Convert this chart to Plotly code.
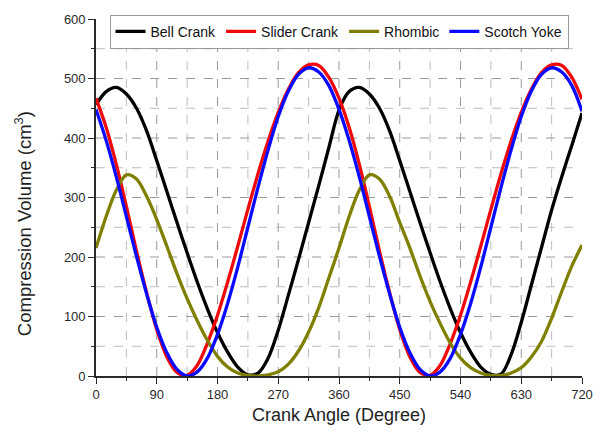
import plotly.graph_objects as go

# Crank angle in degrees
angles = list(range(0, 721, 15))

bell_crank = [456, 478, 485, 474, 450, 412, 362, 310, 258, 207, 158, 113, 73, 40, 15, 2,
              5, 30, 77, 136, 196, 258, 320, 384, 447,
              478, 485, 474, 450, 412, 362, 310, 258, 207, 158, 113, 73, 40, 15, 3,
              3, 36, 90, 153, 216, 279, 335, 388, 442]

slider_crank = [467, 418, 356, 285, 210, 140, 78, 32, 6, 1, 18, 55, 102, 158, 218, 280,
                340, 395, 443, 482, 510, 523, 522, 502, 467,
                418, 356, 285, 210, 140, 78, 32, 6, 1, 18, 55, 102, 158, 218, 280,
                340, 395, 443, 482, 510, 523, 522, 502, 465]

rhombic = [215, 268, 312, 338, 331, 302, 263, 218, 172, 130, 93, 60, 33, 15, 5, 1,
           0, 2, 7, 20, 42, 74, 115, 165, 215,
           268, 312, 338, 331, 302, 258, 215, 168, 125, 88, 55, 30, 14, 5, 1,
           1, 5, 14, 32, 58, 97, 142, 185, 220]

scotch_yoke = [448, 396, 335, 268, 201, 138, 82, 39, 11, 0, 7, 30, 70, 122, 183, 250,
               317, 380, 436, 479, 507, 518, 511, 488, 448,
               396, 335, 268, 201, 138, 82, 39, 11, 0, 7, 30, 70, 122, 183, 250,
               317, 380, 436, 479, 507, 518, 511, 488, 445]

x_ticks = [0, 90, 180, 270, 360, 450, 540, 630, 720]
y_ticks = [0, 100, 200, 300, 400, 500, 600]
x_grid = [45, 90, 135, 180, 225, 270, 315, 360, 405, 450, 495, 540, 585, 630, 675]
y_grid = [50, 100, 150, 200, 250, 300, 350, 400, 450, 500, 550]

series = [
    ("Bell Crank", bell_crank, "#000000"),
    ("Slider Crank", slider_crank, "#ee0a0a"),
    ("Rhombic", rhombic, "#808000"),
    ("Scotch Yoke", scotch_yoke, "#0a0aff"),
]

FONT = "Liberation Sans, Arial, sans-serif"

fig = go.Figure()
for name, ys, color in series:
    fig.add_trace(go.Scatter(
        x=angles, y=ys, mode="lines", name=name,
        line=dict(color=color, width=3.3, shape="spline", smoothing=0.9),
    ))

# dashed grid (no line at the right/top range ends, as in the reference)
for gx in x_grid:
    major = gx in x_ticks
    fig.add_shape(type="line", xref="x", yref="paper", x0=gx, x1=gx, y0=0, y1=1,
                  layer="below",
                  line=dict(color="#9a9a9a" if major else "#bdbdbd", width=1, dash="dash"))
for gy in y_grid:
    major = gy in y_ticks
    fig.add_shape(type="line", xref="paper", yref="y", x0=0, x1=1, y0=gy, y1=gy,
                  layer="below",
                  line=dict(color="#9a9a9a" if major else "#bdbdbd", width=1, dash="dash"))

axis_common = dict(
    showline=True, linecolor="#2a2a2a", linewidth=1.6,
    ticks="outside", ticklen=6, tickwidth=1.4, tickcolor="#2a2a2a",
    showgrid=False, zeroline=False,
    tickfont=dict(family=FONT, size=13, color="#2a2a2a"),
)

fig.update_layout(
    width=605, height=436,
    margin=dict(l=96, r=18, t=15, b=60),
    paper_bgcolor="white", plot_bgcolor="white",
    font=dict(family=FONT, color="#222222"),
    xaxis=dict(
        range=[0, 720], tickvals=x_ticks,
        minor=dict(dtick=45, ticks="outside", ticklen=3, tickcolor="#2a2a2a", showgrid=False),
        title=dict(text="Crank Angle (Degree)", font=dict(size=18), standoff=7),
        **axis_common,
    ),
    yaxis=dict(
        range=[0, 600], tickvals=y_ticks,
        minor=dict(dtick=50, ticks="outside", ticklen=3, tickcolor="#2a2a2a", showgrid=False),
        **axis_common,
    ),
    legend=dict(
        orientation="h", x=0.5, xanchor="center", y=1.012, yanchor="top",
        bgcolor="white", bordercolor="#999999", borderwidth=1,
        font=dict(size=14, color="#111111"),
        itemwidth=30, tracegroupgap=0,
    ),
    showlegend=True,
    annotations=[dict(
        text="Compression Volume (cm<sup>3</sup>)", textangle=-90,
        xref="paper", yref="paper", x=-0.151, y=0.427,
        xanchor="center", yanchor="middle", showarrow=False,
        font=dict(family=FONT, size=18.5, color="#222222"),
    )],
)

fig.write_html("out.html")
